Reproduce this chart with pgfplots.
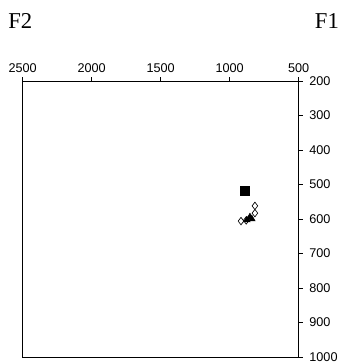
\documentclass[border=0pt]{standalone}
\usepackage{fontspec}
\setmainfont{Liberation Serif}
\setsansfont{Liberation Sans}
\usepackage{pgfplots}
\pgfplotsset{compat=1.18}
\usetikzlibrary{calc}
\begin{document}
\begin{tikzpicture}
\begin{axis}[
  name=ax,
  scale only axis,
  width=207pt, height=207pt,
  at={(0,0)}, anchor=south west,
  x dir=reverse, y dir=reverse,
  xmin=500, xmax=2500, ymin=200, ymax=1000,
  xtick={500,1000,1500,2000,2500},
  ytick={200,300,400,500,600,700,800,900,1000},
  xtick pos=top, ytick pos=right,
  xticklabel pos=top, yticklabel pos=right,
  tick align=outside,
  major tick length=3pt,
  tick style={black, line width=0.6pt},
  axis line style={black, line width=0.75pt},
  ticklabel style={font=\sffamily\fontsize{9.5}{11}\selectfont},
  /pgf/number format/assume math mode=true,
  /pgf/number format/1000 sep={},
  yticklabel style={xshift=1.5pt},
  xticklabel style={yshift=-0.5pt},
  clip=false,
]
\addplot[only marks, mark=square*, mark size=3.3pt, black] coordinates {(889,519)};
\addplot[only marks, mark=diamond*, mark size=2.8pt, draw=black, fill=white, line width=0.5pt] coordinates {
(817,562) (817,583) (918,606) (880,604)
};
\addplot[only marks, mark=triangle*, mark size=2.8pt, black] coordinates {
(853,594) (875,603) (839,600)
};
\end{axis}
\node[anchor=base west, font=\fontsize{17}{20}\selectfont, inner sep=0] at (-11pt,246pt) {F2};
\node[anchor=base west, font=\fontsize{17}{20}\selectfont, inner sep=0] at (219pt,246pt) {F1};
\pgfresetboundingbox
\path[use as bounding box] (-17pt,-5.25pt) rectangle (238.75pt,267.75pt);
\end{tikzpicture}
\end{document}
